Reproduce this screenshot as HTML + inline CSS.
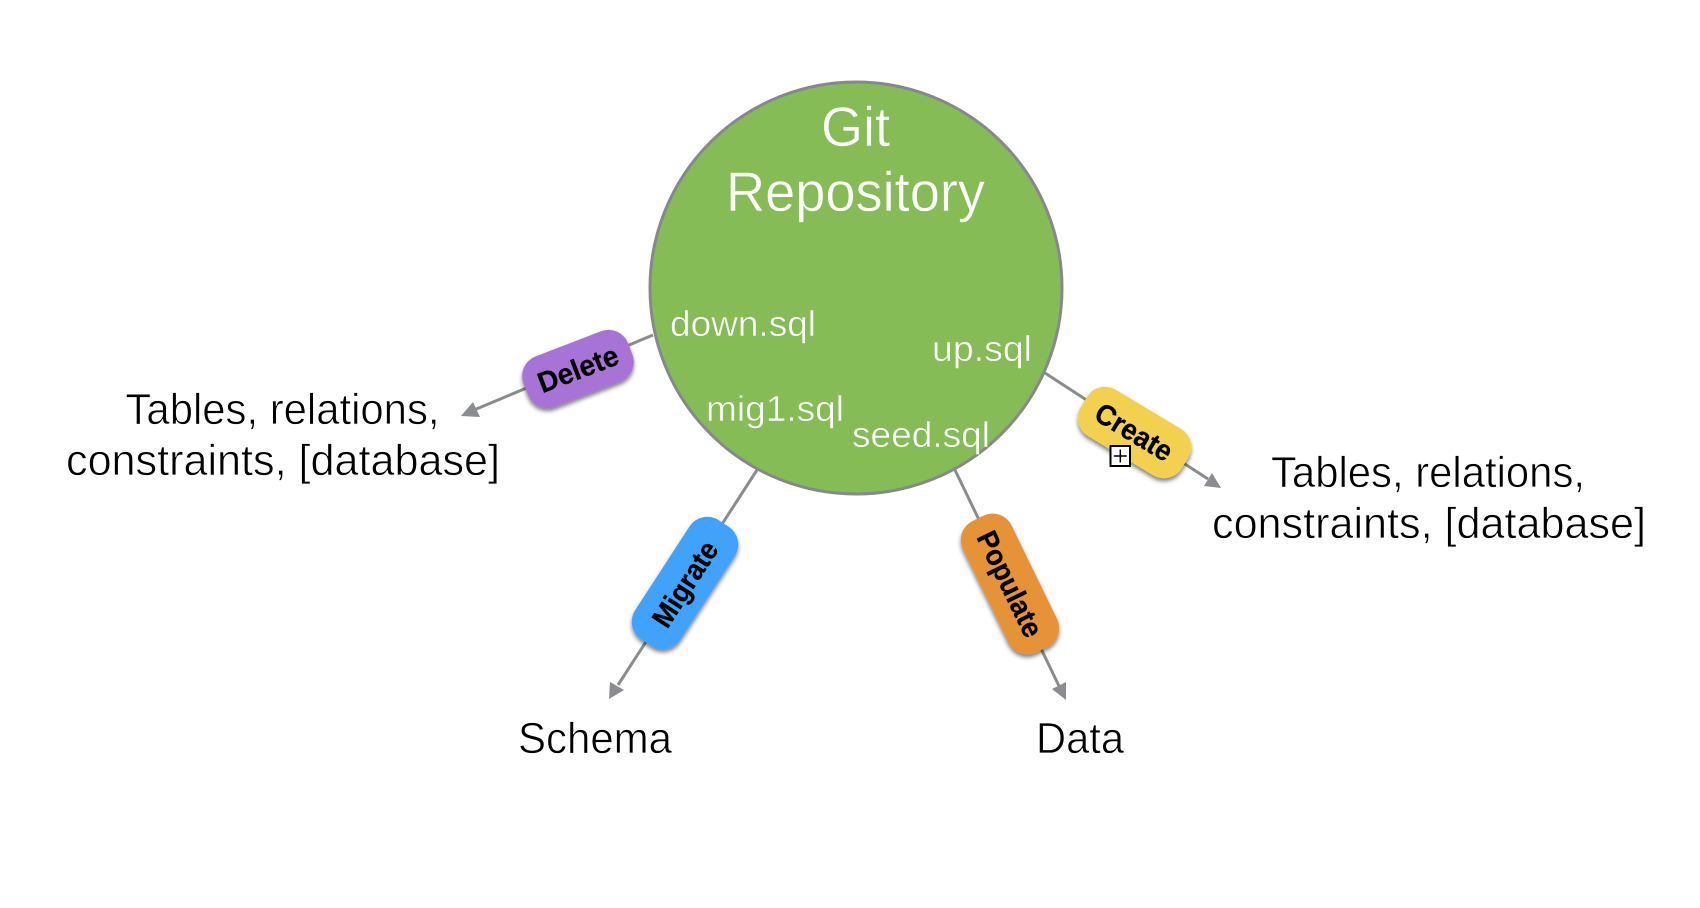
<!DOCTYPE html>
<html><head><meta charset="utf-8"><style>
html,body{margin:0;padding:0;background:#fff;width:1700px;height:908px;overflow:hidden}
svg{display:block}
text{font-family:"Liberation Sans",sans-serif}
.b{fill:#000;font-size:44px;stroke:#fff;stroke-width:.7px}
.w{fill:#fff;stroke:#85bc56;stroke-width:.5px}
.p{fill:#000;font-size:29px;font-weight:bold;text-anchor:middle;stroke:#000;stroke-width:.3px}
</style></head><body>
<svg width="1700" height="908" viewBox="0 0 1700 908" xmlns="http://www.w3.org/2000/svg">
<defs><filter id="s" x="-30%" y="-30%" width="160%" height="160%"><feDropShadow dx="0" dy="3" stdDeviation="2.2" flood-color="#000" flood-opacity=".5"/></filter></defs>
<rect width="1700" height="908" fill="#fff"/>
<g stroke="#8a8c90" stroke-width="3" fill="none">
<line x1="1045" y1="373" x2="1208" y2="479"/>
<line x1="653" y1="335" x2="474" y2="410"/>
<line x1="757" y1="470" x2="618" y2="685"/>
<line x1="955" y1="470" x2="1059" y2="686"/>
</g>
<g fill="#8a8c90">
<polygon points="1221,488 1204,486 1212,473"/>
<polygon points="461,416 473,402 480,417"/>
<polygon points="609,699 610,682 624,690"/>
<polygon points="1066,700 1052,689 1066,682"/>
</g>
<circle cx="856" cy="288" r="206" fill="#85bc56" stroke="#86888c" stroke-width="3"/>
<text class="w" x="821" y="146" font-size="56" textLength="69" lengthAdjust="spacingAndGlyphs">Git</text>
<text class="w" x="726" y="211" font-size="56" textLength="259" lengthAdjust="spacingAndGlyphs">Repository</text>
<text class="w" x="670" y="336" font-size="36" textLength="146" lengthAdjust="spacingAndGlyphs">down.sql</text>
<text class="w" x="932" y="361" font-size="36" textLength="100" lengthAdjust="spacingAndGlyphs">up.sql</text>
<text class="w" x="706" y="421" font-size="36" textLength="138" lengthAdjust="spacingAndGlyphs">mig1.sql</text>
<text class="w" x="852" y="447" font-size="36" textLength="138" lengthAdjust="spacingAndGlyphs">seed.sql</text>

<g filter="url(#s)"><rect x="-56" y="-27" width="112" height="54" rx="21" fill="#a873d6" transform="translate(578 369) rotate(-21)"/></g>
<text class="p" transform="translate(578 369) rotate(-21)" y="10" textLength="84" lengthAdjust="spacingAndGlyphs">Delete</text>

<g filter="url(#s)"><rect x="-59" y="-27" width="118" height="54" rx="21" fill="#f2d14f" transform="translate(1134.5 432.5) rotate(31)"/></g>
<text class="p" transform="translate(1134 432) rotate(31)" y="10" textLength="85" lengthAdjust="spacingAndGlyphs">Create</text>

<g filter="url(#s)"><rect x="-71" y="-27" width="142" height="54" rx="21" fill="#40a2fa" transform="translate(685 583) rotate(-57)"/></g>
<text class="p" transform="translate(685 584) rotate(-57)" y="10" textLength="96" lengthAdjust="spacingAndGlyphs">Migrate</text>

<g filter="url(#s)"><rect x="-73" y="-27" width="146" height="54" rx="21" fill="#e69339" transform="translate(1010 584) rotate(64)"/></g>
<text class="p" transform="translate(1010 584) rotate(64)" y="10" textLength="114" lengthAdjust="spacingAndGlyphs">Populate</text>

<rect x="1110.5" y="446" width="19.5" height="20" fill="#fff" stroke="#000" stroke-width="2"/>
<path d="M1120.3 449.5v13M1113.8 456h13" stroke="#000" stroke-width="1.5" fill="none"/>

<text class="b" x="125.5" y="424" textLength="314" lengthAdjust="spacingAndGlyphs">Tables, relations,</text>
<text class="b" x="66" y="475" textLength="434" lengthAdjust="spacingAndGlyphs">constraints, [database]</text>
<text class="b" x="1271" y="487" textLength="314" lengthAdjust="spacingAndGlyphs">Tables, relations,</text>
<text class="b" x="1212" y="538" textLength="434" lengthAdjust="spacingAndGlyphs">constraints, [database]</text>
<text class="b" x="518" y="753" textLength="154" lengthAdjust="spacingAndGlyphs">Schema</text>
<text class="b" x="1036" y="753" textLength="88" lengthAdjust="spacingAndGlyphs">Data</text>
</svg>
</body></html>
